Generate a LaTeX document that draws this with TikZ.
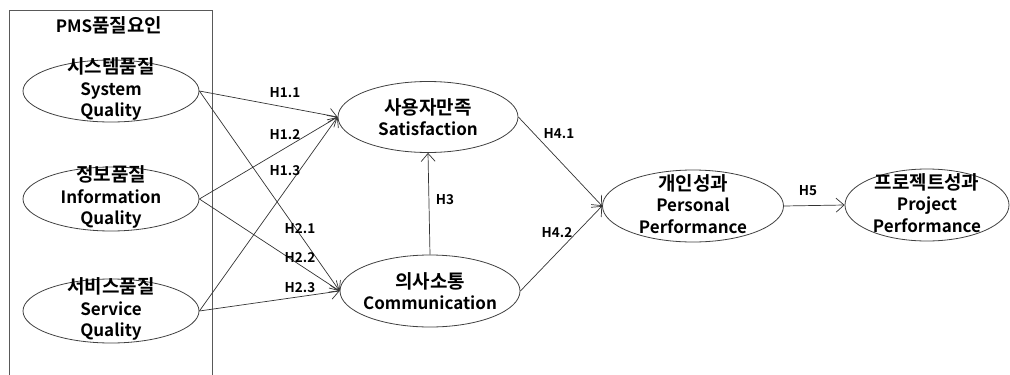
\documentclass[tikz,border=0pt]{standalone}
\usepackage{fontspec}
\setmainfont{Noto Sans CJK KR}[BoldFont={Noto Sans CJK KR Bold}]
\usetikzlibrary{shapes.geometric,arrows.meta}
\newcommand{\kor}[1]{{\fontsize{19}{21.5}\selectfont #1}}
\begin{document}
\begin{tikzpicture}[x=1pt,y=-1pt,
  ell/.style={draw=black!75, line width=0.8pt, ellipse, inner sep=0pt},
  etxt/.style={align=center, inner sep=0pt, font=\fontsize{17}{21.5}\selectfont\bfseries},
  hl/.style={inner sep=0pt, font=\fontsize{13.5}{15}\selectfont\bfseries},
  arr/.style={draw=black!80, line width=0.7pt, -{Straight Barb[length=8pt,width=14pt]}},
  ]
\useasboundingbox (0,0) rectangle (1010,375);
% group box
\draw[black!65, line width=0.8pt] (9,376) -- (9,10) -- (212,10) -- (212,376);
\node[hl, font=\fontsize{17}{18}\selectfont\bfseries] (title) at (109,25) {PMS\kor{품질요인}};
% ellipses
\node[ell, minimum width=176pt, minimum height=62pt] (sys) at (111,91) {};
\node[etxt] (sysT) at (111,89) {\kor{시스템품질}\\System\\Quality};
\node[ell, minimum width=176pt, minimum height=64pt] (inf) at (111,199) {};
\node[etxt] (infT) at (111,197) {\kor{정보품질}\\Information\\Quality};
\node[ell, minimum width=176pt, minimum height=64pt] (ser) at (111,311) {};
\node[etxt] (serT) at (111,309) {\kor{서비스품질}\\Service\\Quality};
\node[ell, minimum width=180pt, minimum height=71pt] (sat) at (428,117) {};
\node[etxt] (satT) at (428,117) {\kor{사용자만족}\\Satisfaction};
\node[ell, minimum width=180pt, minimum height=72pt] (com) at (430,291) {};
\node[etxt] (comT) at (430,291) {\kor{의사소통}\\Communication};
\node[ell, minimum width=181pt, minimum height=72pt] (per) at (693,206) {};
\node[etxt] (perT) at (693,204) {\kor{개인성과}\\Personal\\Performance};
\node[ell, minimum width=164pt, minimum height=72pt] (pro) at (927,205) {};
\node[etxt] (proT) at (927,203) {\kor{프로젝트성과}\\Project\\Performance};
% connectors
\draw[arr] (sys.east) -- (sat.west);
\draw[arr] (inf.east) -- (sat.west);
\draw[arr] (ser.east) -- (sat.west);
\draw[arr] (sys.east) -- (com.west);
\draw[arr] (inf.east) -- (com.west);
\draw[arr] (ser.east) -- (com.west);
\draw[arr] (com.north) -- (sat.south);
\draw[arr] (sat.east) -- (per.west);
\draw[arr] (com.east) -- (per.west);
\draw[arr] (per.east) -- (pro.west);
% labels
\node[hl] (h11) at (285,93) {H1.1};
\node[hl] (h12) at (285,135) {H1.2};
\node[hl] (h13) at (285,171) {H1.3};
\node[hl] (h21) at (300,229) {H2.1};
\node[hl] (h22) at (300,258) {H2.2};
\node[hl] (h23) at (300,288) {H2.3};
\node[hl] (h3) at (445,200) {H3};
\node[hl] (h41) at (559,134) {H4.1};
\node[hl] (h42) at (557,233) {H4.2};
\node[hl] (h5) at (808,191) {H5};
\end{tikzpicture}
\end{document}
